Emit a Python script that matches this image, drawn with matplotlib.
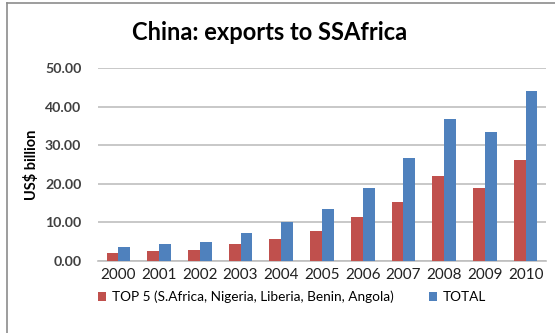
import numpy as np
import matplotlib
matplotlib.use("Agg")
import matplotlib.pyplot as plt
from matplotlib.lines import Line2D

years = ["2000", "2001", "2002", "2003", "2004", "2005",
         "2006", "2007", "2008", "2009", "2010"]
top5 = [2.1, 2.7, 2.9, 4.5, 5.8, 7.7, 11.5, 15.4, 21.9, 19.0, 26.1]
total = [3.5, 4.4, 4.8, 7.3, 10.1, 13.4, 19.0, 26.6, 36.9, 33.5, 44.1]
yticks = [0, 10, 20, 30, 40, 50]

red = "#C0504D"
blue = "#4F81BD"

plt.rcParams['font.family'] = ['Lato', 'DejaVu Sans']

fig = plt.figure(figsize=(5.55, 3.33), dpi=100)
ax = fig.add_axes([98 / 555, 1 - 261 / 333, 448 / 555, 193 / 333])

x = np.arange(len(years))
w = 0.29
ax.bar(x - w / 2, top5, w, color=red, label="TOP 5 (S.Africa, Nigeria, Liberia, Benin, Angola)", zorder=3)
ax.bar(x + w / 2, total, w, color=blue, label="TOTAL", zorder=3)

ax.set_xlim(-0.5, len(years) - 0.5)
ax.set_ylim(0, 50)
ax.set_yticks(yticks)
ax.set_yticklabels([f"{v:.2f}" for v in yticks], fontsize=10.2, fontweight="bold", color="#404040")
ax.set_xticks(x)
ax.set_xticklabels(years, fontsize=11, color="#202020")
ax.tick_params(axis="y", length=0, pad=12)
ax.tick_params(axis="x", length=0, pad=5)
ax.yaxis.grid(True, color="#BFBFBF", linewidth=1.2, zorder=0)
for s in ["top", "right", "left"]:
    ax.spines[s].set_visible(False)
ax.spines["bottom"].set_color("#BFBFBF")
ax.spines["bottom"].set_linewidth(1.2)

ax.set_ylabel("US$ billion", fontsize=10.5, fontweight="bold", labelpad=4)

fig.text(270 / 555, 1 - 33 / 333, "China: exports to SSAfrica", ha="center", va="center",
         fontsize=17, fontweight="bold")

fig.legend(loc="center", bbox_to_anchor=(292 / 555, 1 - 297 / 333), ncol=2, frameon=False,
           fontsize=9.8, handlelength=0.6, handleheight=0.6, columnspacing=2.6, handletextpad=0.4)

# outer chart frame (left and top edges)
fig.add_artist(Line2D([7 / 555, 7 / 555], [0, 1 - 3 / 333], color="#8C8C8C", linewidth=1.2,
                      transform=fig.transFigure))
fig.add_artist(Line2D([7 / 555, 1], [1 - 3 / 333, 1 - 3 / 333], color="#8C8C8C", linewidth=1.2,
                      transform=fig.transFigure))

fig.savefig("out.png", dpi=100, facecolor="white")
